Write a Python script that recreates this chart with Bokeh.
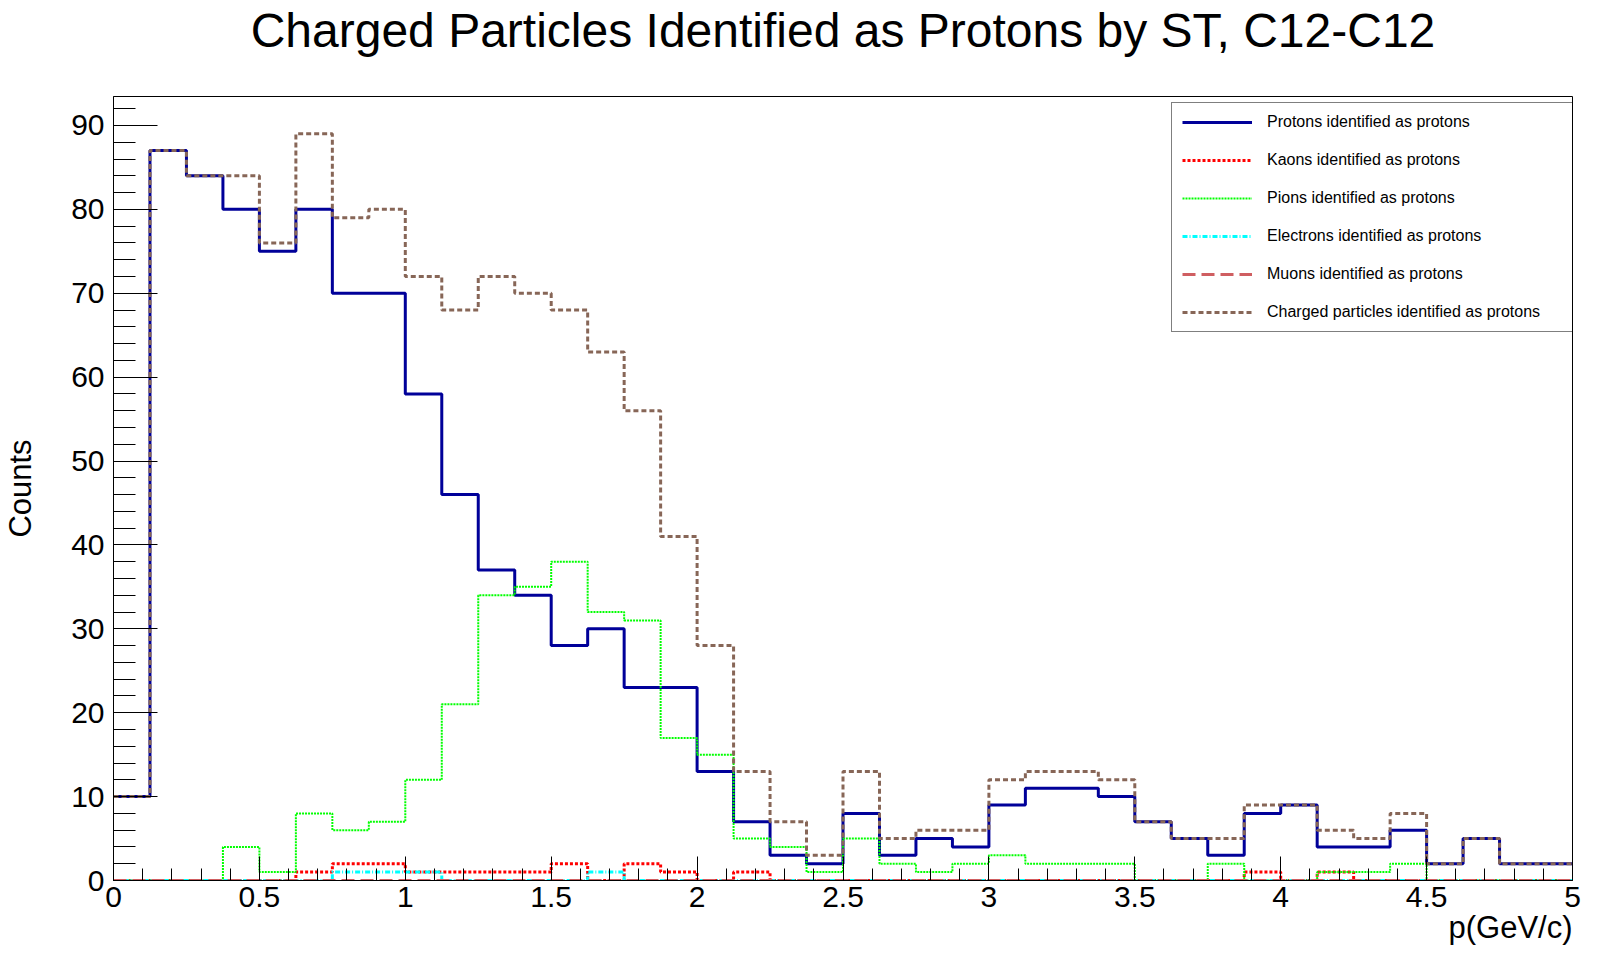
import numpy as np
from bokeh.plotting import figure
from bokeh.models import (SingleIntervalTicker, FixedTicker, CustomJSTickFormatter,
                          Legend, LegendItem, LinearAxis, Title)
from bokeh.embed import file_html
from bokeh.resources import INLINE

# ---- data (bin contents) ----
x_min, x_max, n_bins = 0.0, 5.0, 40
protons = [10, 87, 84, 80, 75, 80, 70, 70, 58, 46, 37, 34, 28, 30, 23, 23, 13, 7, 3, 2,
           8, 3, 5, 4, 9, 11, 11, 10, 7, 5, 3, 8, 9, 4, 4, 6, 2, 5, 2, 2]
kaons = [0, 0, 0, 0, 0, 1, 2, 2, 1, 1, 1, 1, 2, 0, 2, 1, 0, 1, 0, 0,
         0, 0, 0, 0, 0, 0, 0, 0, 0, 0, 0, 1, 0, 1, 0, 0, 0, 0, 0, 0]
pions = [0, 0, 0, 4, 1, 8, 6, 7, 12, 21, 34, 35, 38, 32, 31, 17, 15, 5, 4, 1,
         5, 2, 1, 2, 3, 2, 2, 2, 0, 0, 2, 0, 0, 1, 1, 2, 0, 0, 0, 0]
electrons = [0, 0, 0, 0, 0, 0, 1, 1, 1, 0, 0, 0, 0, 1, 0, 0, 0, 0, 0, 0,
             0, 0, 0, 0, 0, 0, 0, 0, 0, 0, 0, 0, 0, 0, 0, 0, 0, 0, 0, 0]
muons = [0, 0, 0, 0, 0, 0, 0, 0, 0, 0, 0, 0, 0, 0, 0, 0, 0, 0, 0, 0,
         0, 0, 0, 0, 0, 0, 0, 0, 0, 0, 0, 0, 0, 0, 0, 0, 0, 0, 0, 0]
charged = [10, 87, 84, 84, 76, 89, 79, 80, 72, 68, 72, 70, 68, 63, 56, 41, 28, 13, 7, 3,
           13, 5, 6, 6, 12, 13, 13, 12, 7, 5, 5, 9, 9, 6, 5, 8, 2, 5, 2, 2]

labels = ["Protons identified as protons", "Kaons identified as protons",
          "Pions identified as protons", "Electrons identified as protons",
          "Muons identified as protons", "Charged particles identified as protons"]
series = [protons, kaons, pions, electrons, muons, charged]

title_text = "Charged Particles Identified as Protons by ST, C12-C12"
x_label = "p(GeV/c)"
y_label = "Counts"

# ---- styles ----
colors = ["#000099", "#ff0000", "#00ff00", "#00ffff", "#cf5e61", "#876657"]
dashes = ["solid", "3 2", "2 1", "5 2 1 2", "13 6", "5 3"]
widths = [3, 3, 2, 3, 3, 3]

FONT = "Liberation Sans"
edges = np.linspace(x_min, x_max, n_bins + 1)

W, H = 1581, 947
BL, BR, BT, BB = 108, 9, 95, 67

p = figure(width=W, height=H, x_range=(x_min, x_max), y_range=(0, 93.45),
           output_backend="svg", toolbar_location=None, title=None,
           min_border_left=BL, min_border_right=BR, min_border_top=BT,
           min_border_bottom=BB)
p.background_fill_color = "white"
p.border_fill_color = "white"
p.outline_line_color = "black"
p.outline_line_width = 1
p.grid.visible = False

items = []
for vals, lab, c, d, w in zip(series, labels, colors, dashes, widths):
    r = p.step(x=list(edges), y=list(vals) + [vals[-1]], mode="after",
               line_color=c, line_width=w, line_dash=d)
    items.append(LegendItem(label=lab, renderers=[r]))

# axes
xa, ya = p.xaxis[0], p.yaxis[0]
xa.ticker = SingleIntervalTicker(interval=0.5, num_minor_ticks=5)
xa.formatter = CustomJSTickFormatter(code="return tick.toString();")
ya.ticker = SingleIntervalTicker(interval=10, num_minor_ticks=5)
for ax in (xa, ya):
    ax.axis_line_color = "black"
    ax.major_tick_line_color = "black"
    ax.minor_tick_line_color = "black"
    ax.major_tick_out = 0
    ax.minor_tick_out = 0
    ax.major_label_text_font = FONT
    ax.major_label_text_font_size = "30px"
    ax.major_label_text_color = "black"
    ax.axis_label_text_font = FONT
    ax.axis_label_text_font_style = "normal"
    ax.axis_label_text_font_size = "31px"
    ax.axis_label_text_color = "black"
xa.major_tick_in = 24
xa.minor_tick_in = 12
ya.major_tick_in = 44
ya.minor_tick_in = 22
xa.major_label_standoff = 6
ya.major_label_standoff = 9

ya.axis_label = y_label
ya.axis_label_standoff = 30

# x-axis title, right-aligned under the frame
xt = Title(text=x_label, align="right", vertical_align="bottom", standoff=-4,
           text_font=FONT, text_font_size="31px", text_font_style="normal",
           text_color="black")
p.add_layout(xt, "below")

# main title drawn as the label of a bare axis above the frame
top_axis = LinearAxis(ticker=FixedTicker(ticks=[]), axis_line_color=None,
                      major_tick_in=0, major_tick_out=0, minor_tick_in=0,
                      minor_tick_out=0, major_label_standoff=0,
                      axis_label=title_text, axis_label_standoff=40,
                      axis_label_text_font=FONT, axis_label_text_font_size="48px",
                      axis_label_text_font_style="normal",
                      axis_label_text_color="black")
p.add_layout(top_axis, "above")

legend = Legend(items=items, location=(1058, 548), orientation="vertical",
                label_text_font=FONT, label_text_font_size="16px",
                label_text_color="black",
                glyph_width=70, glyph_height=18, label_height=18,
                label_width=297, label_standoff=15, spacing=20, padding=10,
                margin=0, border_line_color="black", border_line_width=1,
                background_fill_color="white", background_fill_alpha=1.0)
p.add_layout(legend, "center")

open("out.html", "w").write(file_html(p, INLINE))
